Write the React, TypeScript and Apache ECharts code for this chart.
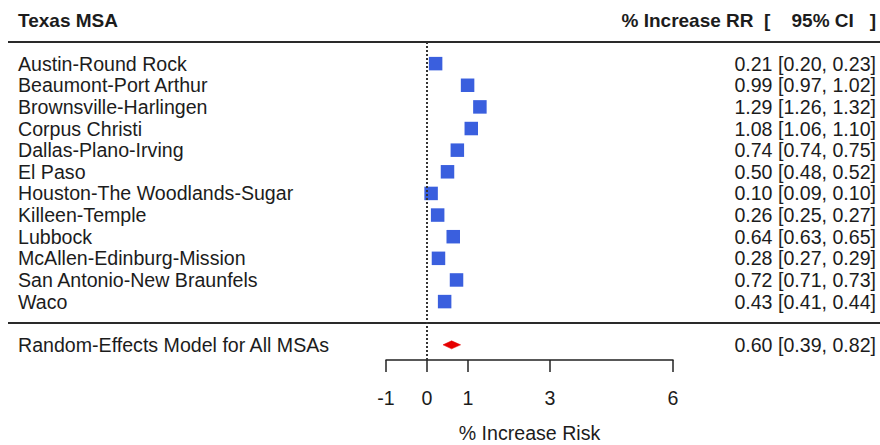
import React, { useEffect, useRef } from "react";
import * as echarts from "echarts";

const msaNames = [
  "Austin-Round Rock",
  "Beaumont-Port Arthur",
  "Brownsville-Harlingen",
  "Corpus Christi",
  "Dallas-Plano-Irving",
  "El Paso",
  "Houston-The Woodlands-Sugar",
  "Killeen-Temple",
  "Lubbock",
  "McAllen-Edinburg-Mission",
  "San Antonio-New Braunfels",
  "Waco",
];
const estimates = [0.21, 0.99, 1.29, 1.08, 0.74, 0.5, 0.1, 0.26, 0.64, 0.28, 0.72, 0.43];
const lowers = [0.2, 0.97, 1.26, 1.06, 0.74, 0.48, 0.09, 0.25, 0.63, 0.27, 0.71, 0.41];
const uppers = [0.23, 1.02, 1.32, 1.1, 0.75, 0.52, 0.1, 0.27, 0.65, 0.29, 0.73, 0.44];

const summaryLabel = "Random-Effects Model for All MSAs";
const summaryEstimate = 0.6;
const summaryLower = 0.39;
const summaryUpper = 0.82;

const xTicks = [-1, 0, 1, 3, 6];
const headerLeft = "Texas MSA";
const headerRight = "% Increase RR  [    95% CI   ]";
const xAxisTitle = "% Increase Risk";

const FONT = "'Liberation Sans', Arial, Helvetica, sans-serif";
const TEXT_COLOR = "#1c1c1c";
const FS = 19.6;

const fmt = (e: number, l: number, u: number) =>
  `${e.toFixed(2)} [${l.toFixed(2)}, ${u.toFixed(2)}]`;

export default function App() {
  const ref = useRef<HTMLDivElement>(null);

  useEffect(() => {
    if (!ref.current) return;
    const chart = echarts.init(ref.current, undefined, { renderer: "svg" });

    const summaryRow = msaNames.length + 1; // one blank row gap
    const rowValues = [...msaNames.map((_, i) => i), summaryRow];
    const leftText = (v: number) => (v === summaryRow ? summaryLabel : msaNames[v] ?? "");
    const rightText = (v: number) =>
      v === summaryRow
        ? fmt(summaryEstimate, summaryLower, summaryUpper)
        : v >= 0 && v < msaNames.length
        ? fmt(estimates[v], lowers[v], uppers[v])
        : "";

    const gridLeft = 386;
    const gridWidth = 287;
    const gridTop = 42;
    const gridHeight = 318;

    const option: any = {
      animation: false,
      backgroundColor: "#ffffff",
      textStyle: { fontFamily: FONT, color: TEXT_COLOR },
      title: [
        {
          text: headerLeft,
          left: 18,
          top: 11,
          padding: 0,
          textStyle: { fontFamily: FONT, fontSize: 19, fontWeight: "bold", color: TEXT_COLOR },
        },
        {
          text: headerRight,
          right: 4,
          top: 11,
          padding: 0,
          textStyle: { fontFamily: FONT, fontSize: 19, fontWeight: "bold", color: TEXT_COLOR },
        },
      ],
      grid: {
        left: gridLeft,
        top: gridTop,
        width: gridWidth,
        height: gridHeight,
        containLabel: false,
        outerBoundsMode: "none",
      },
      xAxis: {
        type: "value",
        min: -1,
        max: 6,
        position: "bottom",
        splitLine: { show: false },
        axisLine: { show: true, onZero: false, lineStyle: { color: "#222", width: 1.5 } },
        axisTick: {
          show: true,
          customValues: xTicks,
          length: 12,
          inside: false,
          lineStyle: { color: "#222", width: 1.5 },
        },
        axisLabel: {
          customValues: xTicks,
          margin: 28,
          fontSize: FS,
          fontFamily: FONT,
          color: TEXT_COLOR,
          showMinLabel: true,
          showMaxLabel: true,
        },
        name: xAxisTitle,
        nameLocation: "middle",
        nameGap: 63,
        nameTextStyle: { fontSize: FS, fontFamily: FONT, color: TEXT_COLOR },
      },
      yAxis: [
        {
          type: "value",
          inverse: true,
          min: -1,
          max: 13.7,
          position: "left",
          splitLine: { show: false },
          axisLine: { show: false },
          axisTick: { show: false },
          axisLabel: {
            customValues: rowValues,
            formatter: (v: number) => leftText(v),
            align: "left",
            margin: gridLeft - 18,
            fontSize: FS,
            fontFamily: FONT,
            color: TEXT_COLOR,
            showMinLabel: true,
            showMaxLabel: true,
          },
        },
        {
          type: "value",
          inverse: true,
          min: -1,
          max: 13.7,
          position: "right",
          splitLine: { show: false },
          axisLine: { show: false },
          axisTick: { show: false },
          axisLabel: {
            customValues: rowValues,
            formatter: (v: number) => rightText(v),
            align: "right",
            margin: 876 - (gridLeft + gridWidth),
            fontSize: FS,
            fontFamily: FONT,
            color: TEXT_COLOR,
            showMinLabel: true,
            showMaxLabel: true,
          },
        },
      ],
      graphic: [
        {
          type: "line",
          shape: { x1: 8, y1: gridTop, x2: 880, y2: gridTop },
          style: { stroke: "#2a2a2a", lineWidth: 2 },
          silent: true,
        },
        {
          type: "line",
          shape: { x1: 8, y1: 323, x2: 880, y2: 323 },
          style: { stroke: "#2a2a2a", lineWidth: 2 },
          silent: true,
        },
      ],
      series: [
        {
          type: "custom",
          name: "CI",
          z: 2,
          data: msaNames.map((_, i) => [lowers[i], uppers[i], i]),
          renderItem: (params: any, api: any) => {
            const a = api.coord([api.value(0), api.value(2)]);
            const b = api.coord([api.value(1), api.value(2)]);
            return {
              type: "line",
              shape: { x1: a[0], y1: a[1], x2: b[0], y2: b[1] },
              style: { stroke: "#222", lineWidth: 1 },
            };
          },
        },
        {
          type: "scatter",
          name: "Estimates",
          z: 3,
          symbol: "rect",
          symbolSize: 13.5,
          itemStyle: { color: "#3a5fde", opacity: 1 },
          data: msaNames.map((_, i) => [estimates[i], i]),
          markLine: {
            silent: true,
            symbol: "none",
            label: { show: false },
            lineStyle: { type: [2, 2], color: "#333", width: 2 },
            data: [{ xAxis: 0 }],
          },
        },
        {
          type: "custom",
          name: "Summary",
          z: 4,
          data: [[summaryLower, summaryEstimate, summaryUpper, summaryRow]],
          renderItem: (params: any, api: any) => {
            const y = api.value(3);
            const l = api.coord([api.value(0), y]);
            const m = api.coord([api.value(1), y]);
            const u = api.coord([api.value(2), y]);
            const h = 4;
            return {
              type: "polygon",
              shape: {
                points: [
                  [l[0], l[1]],
                  [m[0], m[1] - h],
                  [u[0], u[1]],
                  [m[0], m[1] + h],
                ],
              },
              style: { fill: "#e60000", stroke: "#e60000", lineWidth: 0.5 },
            };
          },
        },
      ],
    };

    chart.setOption(option);
    return () => chart.dispose();
  }, []);

  return (
    <div
      ref={ref}
      style={{ position: "absolute", left: 0, top: 0, width: 880, height: 445, background: "#fff" }}
    />
  );
}
